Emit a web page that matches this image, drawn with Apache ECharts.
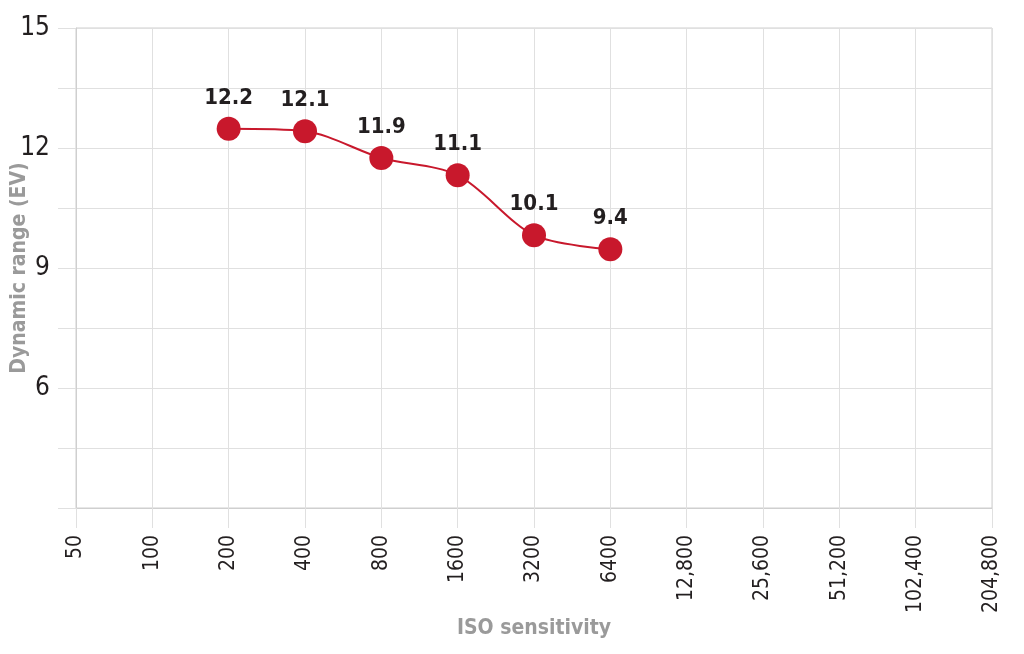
<!DOCTYPE html>
<html>
<head>
<meta charset="utf-8">
<title>Dynamic range vs ISO</title>
<script src="https://cdn.jsdelivr.net/npm/echarts@6/dist/echarts.min.js"></script>
<style>
  html, body { margin: 0; padding: 0; background: #fff; }
  #chart { width: 1024px; height: 654px; }
</style>
</head>
<body>
<div id="chart"></div>
<script>
// ISO steps along the bottom
const isoLabels = ['50', '100', '200', '400', '800', '1600', '3200', '6400',
  '12,800', '25,600', '51,200', '102,400', '204,800'];
// where the markers sit on the EV scale
const evPlotted = [null, null, 12.48, 12.42, 11.75, 11.32, 9.82, 9.47];
// the numbers printed above each marker
const evLabels = [null, null, '12.2', '12.1', '11.9', '11.1', '10.1', '9.4'];
// y ticks that get a number
const yTickLabels = [6, 9, 12, 15];

const font = "'DejaVu Sans Condensed', 'Liberation Sans Narrow', sans-serif";
const red = '#c8182c';
const gridCol = '#e0e0e0';

const chart = echarts.init(document.getElementById('chart'));
chart.setOption({
  backgroundColor: '#fff',
  animation: false,
  grid: {
    left: 76, right: 32, top: 28, bottom: 146,
    outerBoundsMode: 'none',
    show: true, borderColor: '#cfcfcf', borderWidth: 1
  },
  xAxis: {
    type: 'category',
    data: isoLabels,
    boundaryGap: false,
    name: 'ISO sensitivity',
    nameLocation: 'middle',
    nameGap: 110,
    nameMoveOverlap: false,
    nameTextStyle: { fontFamily: font, fontSize: 21, fontWeight: 'bold', color: '#9a9a9a' },
    axisLine: { lineStyle: { color: '#cfcfcf' } },
    axisTick: { show: true, length: 20, alignWithLabel: true, lineStyle: { color: gridCol } },
    axisLabel: {
      rotate: 90, margin: 27, interval: 0,
      fontFamily: font, fontSize: 21, color: '#231f20'
    },
    splitLine: { show: true, interval: 0, lineStyle: { color: gridCol } }
  },
  yAxis: {
    type: 'value',
    min: 3, max: 15, interval: 1.5,
    name: 'Dynamic range (EV)',
    nameLocation: 'middle',
    nameGap: 46,
    nameMoveOverlap: false,
    nameTextStyle: { fontFamily: font, fontSize: 21, fontWeight: 'bold', color: '#9a9a9a' },
    axisLine: { show: true, lineStyle: { color: '#cfcfcf' } },
    axisTick: { show: true, length: 18, lineStyle: { color: gridCol } },
    axisLabel: {
      margin: 26,
      fontFamily: font, fontSize: 26, color: '#231f20',
      formatter: v => yTickLabels.includes(v) ? String(v) : ''
    },
    splitLine: { lineStyle: { color: gridCol } }
  },
  series: [{
    type: 'line',
    data: evPlotted,
    smooth: 0.3,
    symbol: 'circle',
    symbolSize: 24,
    lineStyle: { color: red, width: 2 },
    itemStyle: { color: red },
    label: {
      show: true, position: 'top', distance: 8,
      fontFamily: font, fontSize: 22, fontWeight: 'bold', color: '#231f20',
      formatter: p => evLabels[p.dataIndex]
    }
  }]
});
</script>
</body>
</html>
